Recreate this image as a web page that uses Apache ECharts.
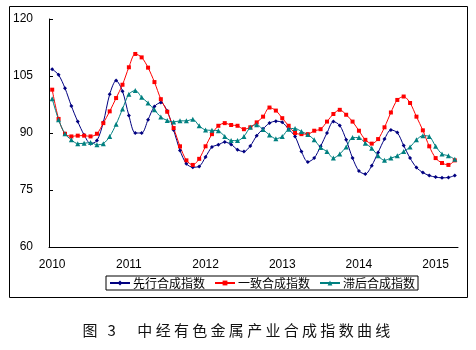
<!DOCTYPE html>
<html>
<head>
<meta charset="utf-8">
<script src="https://cdn.jsdelivr.net/npm/echarts@6/dist/echarts.min.js"></script>
<style>
html,body{margin:0;padding:0;background:#fff;}
#wrap{position:relative;width:476px;height:350px;}
#chart{position:absolute;left:0;top:0;width:476px;height:350px;}
#caption{position:absolute;left:0;width:476px;top:320px;text-align:center;font-family:"Noto Sans CJK SC",sans-serif;font-size:15px;line-height:20px;letter-spacing:3.3px;color:#111;}
</style>
</head>
<body>
<div id="wrap">
<div id="chart"></div>
<div id="caption">图 3　中经有色金属产业合成指数曲线</div>
</div>
<script>
// Month categories Jan 2010 - Apr 2015
const months = [];
for (let y = 2010; y <= 2015; y++) {
  for (let m = 1; m <= 12; m++) {
    if (y === 2015 && m > 4) break;
    months.push(y + '-' + (m < 10 ? '0' + m : m));
  }
}
const seriesNames = ['先行合成指数', '一致合成指数', '滞后合成指数'];
const leading = [106.8,105.3,101.8,97.1,93.0,89.5,87.2,88.0,92.8,100.2,103.8,101.0,94.6,90.0,90.0,93.5,97.0,98.0,95.8,90.8,85.4,81.9,81.0,81.2,83.7,86.3,86.9,87.6,87.0,85.6,85.1,86.6,89.3,91.1,92.6,93.1,92.8,91.0,89.1,85.1,82.4,83.4,86.5,90.0,93.0,92.0,88.2,83.4,80.0,79.2,81.4,84.9,88.4,90.8,90.1,86.7,83.4,80.9,79.6,78.8,78.4,78.2,78.3,78.8];
const coincident = [101.4,93.7,89.8,89.1,89.3,89.3,89.1,89.8,92.6,95.7,99.2,102.7,107.3,110.8,109.9,107.2,103.4,98.9,95.6,91.3,86.5,82.8,81.6,83.2,86.5,89.7,91.9,92.6,92.1,91.9,91.0,91.5,92.8,94.3,96.7,95.9,93.9,91.9,90.0,89.7,89.7,90.6,91.0,93.0,95.0,96.1,94.8,93.0,90.6,88.2,87.2,88.4,91.5,95.4,98.7,99.6,97.9,94.3,90.7,86.5,83.4,82.1,81.6,82.8];
const lagging = [99.0,93.5,89.8,88.2,87.2,87.3,87.5,86.9,87.2,89.1,92.3,96.3,100.2,101.2,99.4,97.9,96.1,94.2,93.3,92.9,93.2,93.2,93.6,91.9,90.8,90.7,90.6,89.1,88.0,88.0,89.1,91.5,92.2,90.9,89.5,88.5,89.1,91.0,91.2,90.4,89.6,88.2,86.2,85.1,83.4,84.5,86.3,88.8,88.8,87.3,86.0,84.0,82.8,83.4,84.0,85.1,86.3,88.2,89.3,89.1,86.5,84.5,84.0,83.1];
const yTicks = [60, 75, 90, 105, 120];

const chart = echarts.init(document.getElementById('chart'), null, {renderer: 'canvas'});
const isJan = (idx, val) => String(val).endsWith('-01');
const mk = (name, data, color, symbol, size) => ({
  name, type: 'line', data, symbol, symbolSize: size, showSymbol: true, showAllSymbol: true,
  smooth: 0.3,
  lineStyle: {color, width: 1}, itemStyle: {color}, animation: false
});
chart.setOption({
  animation: false,
  backgroundColor: '#fff',
  grid: {left: 49, top: 19, width: 409, height: 228},
  graphic: [{
    type: 'rect', shape: {x: 9.5, y: 6.5, width: 458, height: 291},
    style: {fill: 'none', stroke: '#000', lineWidth: 1}, silent: true, z: 0
  }],
  legend: {
    left: 106, top: 276, orient: 'horizontal',
    data: seriesNames,
    itemWidth: 20, itemHeight: 6, itemGap: 9,
    padding: [1, 3, 1, 3],
    borderColor: '#000', borderWidth: 1,
    textStyle: {fontFamily: '"Noto Sans CJK SC", sans-serif', fontSize: 12, color: '#000', padding: [0, 0, 0, -2]}
  },
  xAxis: {
    type: 'category', data: months, boundaryGap: true,
    axisLine: {lineStyle: {color: '#000', width: 1}},
    axisTick: {inside: true, length: 4, interval: isJan, lineStyle: {color: '#000'}},
    axisLabel: {interval: isJan, margin: 12, color: '#000', fontSize: 12,
      fontFamily: '"Liberation Sans", Arial, sans-serif',
      formatter: v => v.slice(0, 4)},
    splitLine: {show: false}
  },
  yAxis: {
    type: 'value', min: yTicks[0], max: yTicks[yTicks.length - 1], interval: 15,
    axisLine: {show: true, lineStyle: {color: '#000', width: 1}},
    axisTick: {show: true, inside: true, length: 4, lineStyle: {color: '#000'}},
    axisLabel: {margin: 16, color: '#000', fontSize: 12,
      fontFamily: '"Liberation Sans", Arial, sans-serif'},
    splitLine: {show: false}
  },
  series: [
    mk(seriesNames[0], leading, '#000080', 'diamond', 4),
    mk(seriesNames[1], coincident, '#FF0000', 'rect', 4),
    mk(seriesNames[2], lagging, '#008080', 'triangle', 5)
  ]
});
</script>
</body>
</html>
